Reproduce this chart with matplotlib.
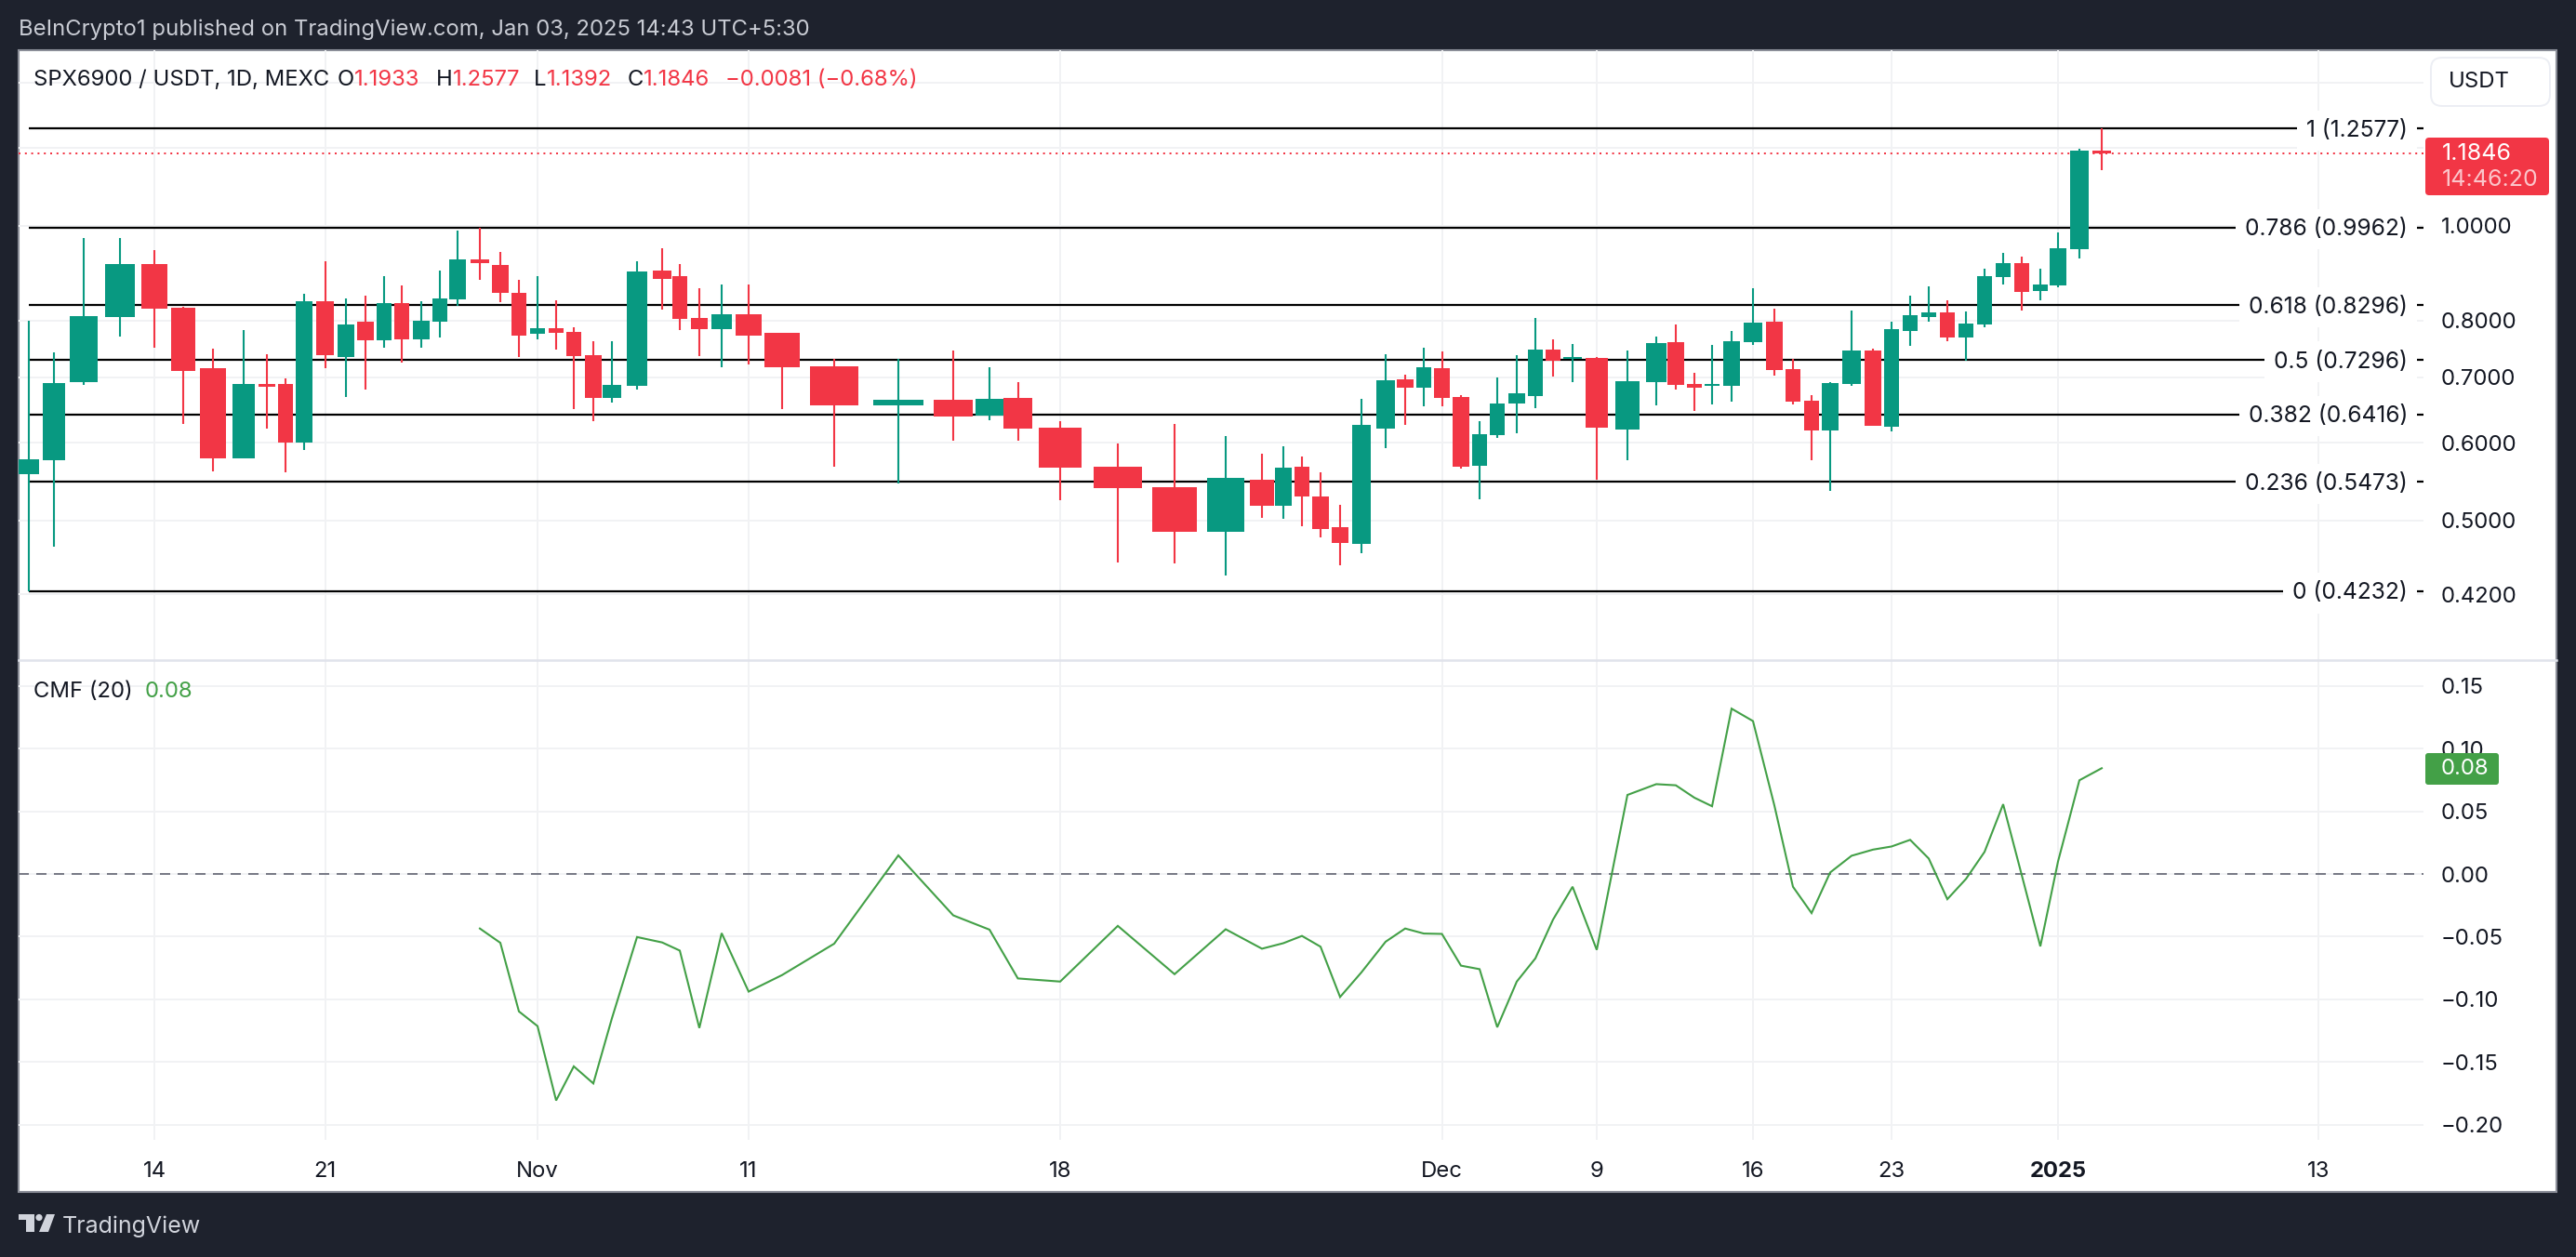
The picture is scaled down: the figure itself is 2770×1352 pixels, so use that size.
import numpy as np
import matplotlib
matplotlib.use("Agg")
import matplotlib.pyplot as plt
from matplotlib.patches import Rectangle, FancyBboxPatch, Polygon, Circle
from matplotlib.ticker import NullFormatter, NullLocator

plt.rcParams['font.family'] = ['Inter', 'DejaVu Sans']

W, H = 2770, 1352
FS = 17.2
# ---------------- data ----------------
DATES = ["Oct 10","Oct 11","Oct 12","Oct 13","Oct 14","Oct 15","Oct 16","Oct 17","Oct 18","Oct 19",
 "Oct 20","Oct 21","Oct 22","Oct 23","Oct 24","Oct 25","Oct 26","Oct 27","Oct 28","Oct 29","Oct 30","Oct 31",
 "Nov 1","Nov 2","Nov 3","Nov 4","Nov 5","Nov 6","Nov 7","Nov 8","Nov 9","Nov 10","Nov 11","Nov 12","Nov 13",
 "Nov 14","Nov 15","Nov 16","Nov 17","Nov 18","Nov 19","Nov 20","Nov 21","Nov 22","Nov 23","Nov 24","Nov 25",
 "Nov 26","Nov 27","Nov 28","Nov 29","Nov 30","Dec 1","Dec 2","Dec 3","Dec 4","Dec 5","Dec 6","Dec 7","Dec 8",
 "Dec 9","Dec 10","Dec 11","Dec 12","Dec 13","Dec 14","Dec 15","Dec 16","Dec 17","Dec 18","Dec 19","Dec 20",
 "Dec 21","Dec 22","Dec 23","Dec 24","Dec 25","Dec 26","Dec 27","Dec 28","Dec 29","Dec 30","Dec 31","Jan 1","Jan 2","Jan 3"]

OPEN = [.5576,.5763,.6918,.8065,.9140,.8248,.7152,.5786,.6891,.6891,.6005,.8370,.7344,.7979,.7636,.8337,.7650,.7979,.8412,.9239,.9122,.8535,
 .7756,.7855,.7786,.7372,.6667,.6857,.8997,.8885,.8049,.7840,.8121,.7771,.7181,
 .6552,.6638,.6396,.6668,.6217,.5672,.5404,.4866,.5500,.5173,.5672,.5288,.4919,.4729,.6203,.6966,.6830,
 .7151,.6683,.5684,.6109,.6581,.6697,.7471,.7310,.7326,.6189,.6921,.7603,.6890,.6860,.6860,.7603,
 .7976,.7135,.6623,.6177,.6888,.7453,.6231,.7804,.8063,.8152,.7688,.7923,.8864,.9158,.8572,.8687,.9470,1.1933]
CLOSE = [.5769,.6905,.8081,.9140,.8224,.7103,.5786,.6891,.6851,.6005,.8370,.7372,.7924,.7636,.8337,.7650,.7995,.8427,.9239,.9157,.8535,.7718,
 .7855,.7771,.7358,.6667,.6878,.8980,.8824,.8034,.7840,.8121,.7718,.7167,.6550,
 .6638,.6382,.6653,.6203,.5658,.5393,.4866,.5524,.5173,.5658,.5288,.4898,.4740,.6258,.6951,.6830,.7167,
 .6668,.5672,.6122,.6581,.6741,.7471,.7277,.7342,.6217,.6936,.7586,.6875,.6830,.6890,.7620,.7961,
 .7118,.6607,.6177,.6906,.7453,.6240,.7837,.8096,.8152,.7688,.7943,.8879,.9158,.8558,.8710,.9486,1.1933,1.1846]
HIGH = [.7995,.7429,.9720,.9720,.9439,.8256,.7488,.7825,.7393,.6980,.8518,.9202,.8427,.8486,.8885,.8687,.8370,.8997,.9882,.9960,.9403,.8807,
 .8885,.8387,.7877,.7621,.7621,.9202,.9485,.9140,.8636,.8713,.8713,.7771,.7308,
 .7310,.7455,.7167,.6921,.6313,.5990,.6272,.6096,.5847,.5950,.5809,.5597,.5184,.6653,.7390,.7042,.7504,
 .7439,.6712,.6313,.6997,.7374,.8048,.7653,.7570,.7342,.7455,.7703,.7926,.7073,.7553,.7806,.8632,
 .8227,.7310,.6712,.6918,.8187,.7484,.7976,.8479,.8666,.8387,.8173,.9036,.9384,.9290,.9036,.9841,1.1983,1.2577]
LOW = [.4232,.4695,.6878,.7703,.7502,.6274,.5608,.5786,.6201,.5597,.5900,.7152,.6685,.6797,.7502,.7244,.7502,.7689,.8281,.8807,.8354,.7344,
 .7650,.7473,.6493,.6311,.6596,.6797,.8209,.7825,.7358,.7167,.7215,.6493,.5674,
 .5452,.6029,.6326,.6029,.5242,.4526,.4517,.4390,.5028,.5017,.4929,.4802,.4497,.4627,.5924,.6258,.6538,
 .6538,.5646,.5253,.6069,.6136,.6509,.7012,.6921,.5500,.5759,.6552,.6800,.6466,.6566,.6609,.7553,
 .7029,.6572,.5758,.5359,.6866,.6240,.6168,.7534,.7976,.7618,.7280,.7869,.8710,.8187,.8387,.8651,.9258,1.1392]

CMF = [-.0435,-.0549,-.1096,-.1213,-.1806,-.1534,-.1670,-.1151,-.0503,-.0546,-.0611,-.1228,-.0472,-.0938,-.0806,-.0556,
 .0148,-.0330,-.0444,-.0833,-.0858,-.0414,-.0799,-.0441,-.0596,-.0552,-.0494,-.0580,-.0981,-.0784,-.0540,-.0435,-.0475,
 -.0478,-.0731,-.0759,-.1222,-.0858,-.0673,-.0364,-.0102,-.0605,.0630,.0716,.0707,.0608,.0540,.1318,.1219,.0546,-.0102,
 -.0312,.0012,.0145,.0194,.0219,.0272,.0123,-.0201,-.0040,.0176,.0556,-.0009,-.0577,.0099,.0747,.0843]
CMF_START = "Oct 29"

FIB_RATIOS = ["1","0.786","0.618","0.5","0.382","0.236","0"]
FIB_PRICES = [1.2577,0.9962,0.8296,0.7296,0.6416,0.5473,0.4232]
LAST_PRICE = 1.1846

PRICE_TICKS = [1.4,1.2,1.0,0.8,0.7,0.6,0.5,0.42]
PRICE_LABELS = ["","","1.0000","0.8000","0.7000","0.6000","0.5000","0.4200"]
CMF_TICKS = [0.15,0.10,0.05,0.0,-0.05,-0.10,-0.15,-0.20]
CMF_LABELS = ["0.15","0.10","0.05","0.00","\u22120.05","\u22120.10","\u22120.15","\u22120.20"]
TIME_TICK_DATES = ["Oct 14","Oct 21","Nov 1","Nov 11","Nov 18","Dec 1","Dec 9","Dec 16","Dec 23","Jan 1"]
TIME_TICK_LABELS = ["14","21","Nov","11","18","Dec","9","16","23","2025","13"]

# The source's time axis is not evenly spaced: horizontal pixel of each daily session.
TIME_AXIS_PX = [30.6,58,90,129,166,197,229,262,287,307,327,349.5,372,393,413,432,453,473,492,516,538,558,
 578,598,617,638,658,685,712,731,752,776,805,841,897,966,1025,1064,1094.5,1140,1202,1263,1318,1357,1380,1400,1420,
 1441,1464,1490,1511,1531,1550.5,1571,1591,1610,1631,1651,1670,1691,1717,1750,1781,1802,1822,1841,1862,1885,
 1908,1928,1948,1968,1991,2014,2034,2054,2074,2094,2114,2134,2154,2174,2194,2213,2236,2260]

GREEN, RED = '#089981', '#F23645'
GRID = '#f1f2f4'
INK = '#131722'
BG = '#1e222d'

# ---------------- scale ----------------
days = np.arange(len(DATES), dtype=float)
px = np.array(TIME_AXIS_PX, dtype=float)
def fwd(d):
    d = np.asarray(d, dtype=float)
    out = np.interp(d, days, px)
    out = np.where(d < days[0], px[0] + (d - days[0]) * 27.4, out)
    out = np.where(d > days[-1], px[-1] + (d - days[-1]) * 23.3, out)
    return out
def inv(p):
    p = np.asarray(p, dtype=float)
    out = np.interp(p, px, days)
    out = np.where(p < px[0], days[0] + (p - px[0]) / 27.4, out)
    out = np.where(p > px[-1], days[-1] + (p - px[-1]) / 23.3, out)
    return out

L, R, T, M, B = 20, 2606, 54, 710, 1226
fig = plt.figure(figsize=(W / 100, H / 100), dpi=100, facecolor=BG)
def add_ax(l, t, r, b, **k):
    return fig.add_axes([l / W, 1 - b / H, (r - l) / W, (b - t) / H], **k)

under = add_ax(0, 0, W, H, zorder=0); under.set_xlim(0, W); under.set_ylim(H, 0); under.axis('off')
under.add_patch(Rectangle((20, 54), 2729, 1228, fc='white', ec='#8b8e98', lw=1.5))

ax = add_ax(L, T, R, M, zorder=1, facecolor='none')
cx = add_ax(L, M, R, B, zorder=1, facecolor='none')
for a in (ax, cx):
    a.set_xscale('function', functions=(fwd, inv))
    a.set_xlim(float(inv(L)), float(inv(R)))
    for s in a.spines.values():
        s.set_visible(False)
    a.set_axisbelow(True)
    a.grid(True, color=GRID, lw=1.44)
    a.xaxis.set_minor_locator(NullLocator())
    a.yaxis.set_minor_locator(NullLocator())

tick_days = [DATES.index(d) for d in TIME_TICK_DATES] + [len(DATES) - 1 + 10]

# price panel
ax.set_yscale('log')
ax.set_ylim(0.3597, 1.5115)
ax.set_yticks(PRICE_TICKS)
ax.set_yticklabels(PRICE_LABELS)
ax.yaxis.set_minor_formatter(NullFormatter())
ax.yaxis.set_minor_locator(NullLocator())
ax.yaxis.tick_right()
ax.tick_params(axis='y', length=0, pad=13.7, labelsize=FS, labelcolor=INK)
ax.set_xticks(tick_days); ax.tick_params(axis='x', length=0, labelbottom=False)

for ratio, price in zip(FIB_RATIOS, FIB_PRICES):
    ax.hlines(price, days[0], float(inv(R)), color='black', lw=1.6, zorder=2)
    ax.annotate(f"{ratio} ({price:.4f})", xy=((2589 - L) / (R - L), price), xycoords=ax.get_yaxis_transform(),
                xytext=(0, -1.6), textcoords='offset points',
                ha='right', va='center', fontsize=17.7, color=INK, zorder=3,
                bbox=dict(boxstyle='square,pad=0.41', fc='white', ec='none'))

ax.axhline(LAST_PRICE, color=RED, lw=1.44, ls=(0, (1, 2.4)), zorder=2)

hw_frac = 0.42
for d, o, h, l, c in zip(days, OPEN, HIGH, LOW, CLOSE):
    col = GREEN if c >= o else RED
    ax.vlines(d, l, h, color=col, lw=1.5, zorder=4)
    i = int(d)
    sl = px[i] - px[i - 1] if i > 0 else px[1] - px[0]
    sr = px[i + 1] - px[i] if i < len(px) - 1 else px[i] - px[i - 1]
    hw = hw_frac * 0.5 * (sl + sr)
    x0, x1 = float(inv(px[i] - hw)), float(inv(px[i] + hw))
    ax.bar(x0, abs(c - o), width=x1 - x0, bottom=min(o, c), align='edge', color=col, lw=0, zorder=5)

# CMF panel
cx.set_ylim(-0.2120, 0.1705)
cx.set_yticks(CMF_TICKS); cx.set_yticklabels(CMF_LABELS)
cx.yaxis.tick_right()
cx.tick_params(axis='y', length=0, pad=13.7, labelsize=FS, labelcolor=INK)
cx.set_xticks(tick_days); cx.set_xticklabels(TIME_TICK_LABELS)
cx.tick_params(axis='x', length=0, pad=16.5, labelsize=FS, labelcolor=INK)
for t in cx.get_xticklabels():
    if t.get_text() == '2025':
        t.set_fontweight('bold')
cx.axhline(0, color='#787b86', lw=1.44, ls=(0, (5.5, 4)), zorder=2)
start = DATES.index(CMF_START)
cx.plot(days[start:], CMF, color='#43A047', lw=1.5, zorder=3, solid_joinstyle='miter')

# chrome / overlay
top = add_ax(0, 0, W, H, zorder=5, facecolor='none'); top.set_xlim(0, W); top.set_ylim(H, 0); top.axis('off')
top.plot([20, 2749], [710, 710], color='#e0e3eb', lw=1.8)

top.text(20, 32, "BeInCrypto1 published on TradingView.com, Jan 03, 2025 14:43 UTC+5:30",
         color='#c9ccd4', fontsize=FS, va='center', ha='left')
def lt(x, s, c=INK):
    top.text(x, 86, s, color=c, fontsize=FS, va='center', ha='left')
lt(36, "SPX6900 / USDT, 1D, MEXC")
for x, s, c in [(363, "O", INK), (381, "1.1933", RED), (469, "H", INK), (487, "1.2577", RED), (574, "L", INK),
                (588, "1.1392", RED), (675, "C", INK), (692, "1.1846", RED), (780, "\u22120.0081 (\u22120.68%)", RED)]:
    lt(x, s, c)
top.text(36, 744, "CMF (20)", color=INK, fontsize=FS, va='center', ha='left')
top.text(156, 744, "0.08", color='#43A047', fontsize=FS, va='center', ha='left')

top.add_patch(FancyBboxPatch((2618, 66), 120, 44, boxstyle='round,pad=4,rounding_size=12', fc='white', ec='#eceef4', lw=1.4))
top.text(2633, 88, "USDT", color=INK, fontsize=FS, va='center', ha='left')

top.add_patch(FancyBboxPatch((2610, 150), 129, 58, boxstyle='round,pad=2,rounding_size=4', fc=RED, ec='none'))
top.text(2626, 165, "1.1846", color='white', fontsize=18, va='center', ha='left')
top.text(2626, 193, "14:46:20", color='#fbc5ca', fontsize=18, va='center', ha='left')

top.add_patch(FancyBboxPatch((2610, 812), 75, 30, boxstyle='round,pad=2,rounding_size=3', fc='#43A047', ec='none'))
top.text(2625, 827, "0.08", color='white', fontsize=FS, va='center', ha='left')

# TradingView mark and wordmark
LOGO = '#d1d4dc'
top.add_patch(Polygon([(20, 1306), (37, 1306), (37, 1325), (28, 1325), (28, 1312), (20, 1312)], fc=LOGO, ec='none'))
top.add_patch(Circle((42, 1309.5), 3.6, fc=LOGO, ec='none'))
top.add_patch(Polygon([(50, 1306), (59, 1306), (52, 1325), (42, 1325)], fc=LOGO, ec='none'))
top.text(67, 1319, "TradingView", color=LOGO, fontsize=18, va='center', ha='left')

fig.savefig('out.png', dpi=100, facecolor=BG)
